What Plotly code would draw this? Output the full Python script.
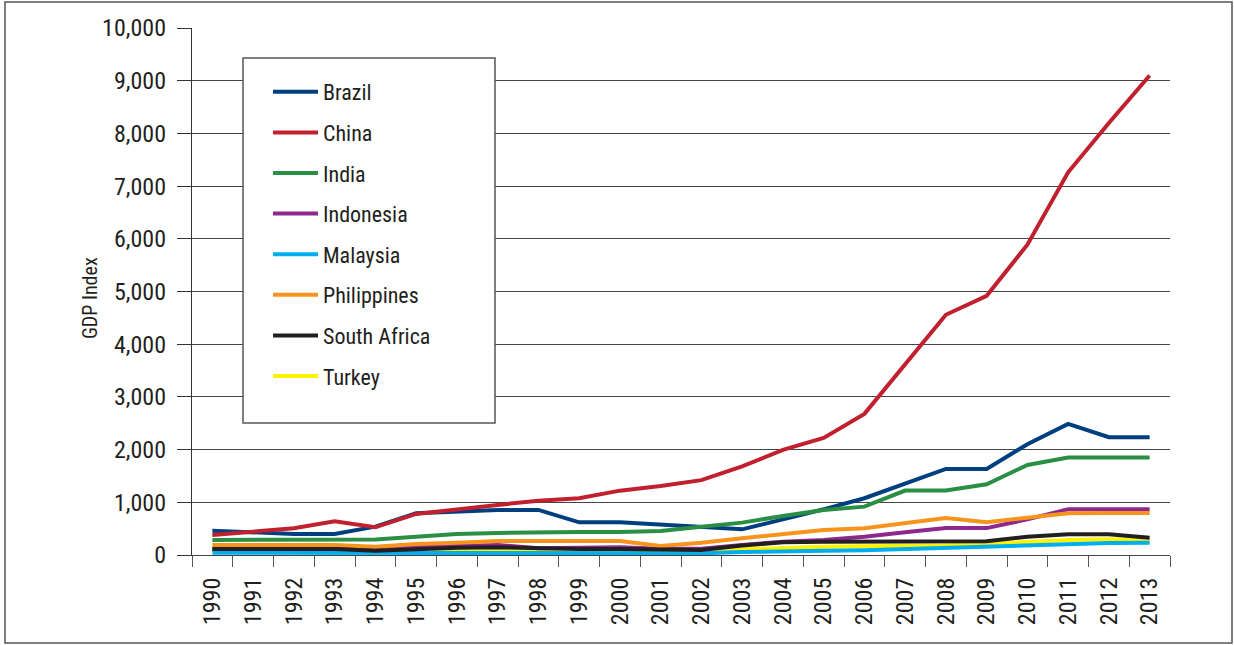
import plotly.graph_objects as go

years = [str(y) for y in range(1990, 2014)]

brazil = [462, 437, 399, 399, 538, 791, 823, 855, 855, 620, 620, 570,
          538, 487, 677, 867, 1077, 1362, 1633, 1633, 2102, 2488, 2235, 2235]
china = [380, 443, 507, 640, 526, 779, 855, 950, 1031, 1076, 1221, 1310,
         1420, 1680, 1994, 2220, 2678, 3609, 4558, 4919, 5888, 7262, 8199, 9098]
india = [285, 285, 285, 285, 295, 348, 399, 418, 437, 437, 437, 456,
         538, 614, 741, 855, 918, 1222, 1222, 1342, 1709, 1849, 1849, 1849]
indonesia = [110, 115, 120, 125, 130, 150, 171, 190, 127, 127, 146, 120,
             120, 190, 253, 285, 348, 431, 510, 510, 677, 867, 867, 867]
malaysia = [44, 44, 44, 44, 40, 48, 51, 51, 51, 48, 44, 32,
            32, 57, 76, 82, 89, 115, 140, 158, 184, 209, 228, 234]
philippines = [190, 190, 190, 190, 158, 209, 234, 266, 266, 266, 266, 171,
               234, 317, 399, 475, 507, 602, 700, 620, 715, 791, 797, 797]
south_africa = [114, 114, 114, 114, 82, 120, 139, 146, 127, 114, 114, 95,
                95, 180, 240, 253, 253, 253, 253, 260, 348, 393, 393, 329]
turkey = [85, 85, 85, 85, 70, 85, 90, 95, 90, 85, 85, 60,
          63, 108, 140, 158, 165, 171, 180, 209, 253, 285, 297, 285]

series = [
    ("Brazil", brazil, "#003f7f"),
    ("China", china, "#c1202f"),
    ("India", india, "#2a8f45"),
    ("Indonesia", indonesia, "#8e288e"),
    ("Malaysia", malaysia, "#00aeef"),
    ("Philippines", philippines, "#f7941d"),
    ("South Africa", south_africa, "#231f20"),
    ("Turkey", turkey, "#fff200"),
]
# drawing order (Turkey sits underneath), legend order kept via legendrank
draw_order = ["Turkey", "Brazil", "China", "India", "Indonesia", "Malaysia",
              "Philippines", "South Africa"]

FONT = "Liberation Sans Narrow, Arial Narrow, Roboto Condensed, sans-serif"
TXT = "#231f20"

fig = go.Figure()
lookup = {s[0]: s for s in series}
names = [s[0] for s in series]
for name in draw_order:
    nm, vals, col = lookup[name]
    fig.add_trace(go.Scatter(
        x=years, y=vals, name=nm, mode="lines",
        line=dict(color=col, width=4),
        legendrank=names.index(nm) + 1, legendgroup=nm,
    ))

W, H = 1234, 645
L, R, T, B = 192, 64, 28, 90
pw, ph = W - L - R, H - T - B


def px(x):
    return (x - L) / pw


def py(y):
    return (H - B - y) / ph


fig.update_layout(
    width=W, height=H, autosize=False,
    margin=dict(l=L, r=R, t=T, b=B, pad=0),
    paper_bgcolor="white", plot_bgcolor="white",
    font=dict(family=FONT, size=24, color=TXT),
    showlegend=True,
    legend=dict(
        x=px(268), y=py(71), xanchor="left", yanchor="top",
        bgcolor="rgba(0,0,0,0)", borderwidth=0,
        font=dict(family=FONT, size=22, color=TXT),
        traceorder="grouped", tracegroupgap=9, itemwidth=45,
    ),
    xaxis=dict(
        type="category", range=[-0.5, 23.5],
        tickson="boundaries", ticks="outside", ticklen=11, tickwidth=1.3,
        tickcolor="#555", showline=True, linecolor="#444", linewidth=1.3,
        showgrid=False, tickangle=-90, ticklabelstandoff=12,
        tickfont=dict(family=FONT, size=24, color=TXT),
    ),
    yaxis=dict(
        range=[0, 10000], dtick=1000, tickformat=",",
        ticks="outside", ticklen=14, tickwidth=1.3, tickcolor="#333",
        showline=True, linecolor="#333", linewidth=1.3,
        showgrid=True, gridcolor="#444", gridwidth=1.3,
        zeroline=False, ticklabelstandoff=6,
        tickfont=dict(family=FONT, size=24, color=TXT),
    ),
    annotations=[
        dict(text="GDP Index", xref="paper", yref="paper",
             x=px(90), y=py(298), xanchor="center", yanchor="middle",
             textangle=-90, showarrow=False,
             font=dict(family=FONT, size=20, color=TXT)),
    ],
    shapes=[
        dict(type="rect", xref="paper", yref="paper",
             x0=px(5), x1=px(1232), y0=py(643), y1=py(2),
             line=dict(color="#555", width=1.5), fillcolor="rgba(0,0,0,0)",
             layer="below"),
        dict(type="rect", xref="paper", yref="paper",
             x0=px(243), x1=px(495), y0=py(423), y1=py(58),
             line=dict(color="#555", width=1.5), fillcolor="white",
             layer="above"),
    ],
)

fig.write_html(
    "out.html",
    config={"displayModeBar": False},
    post_script="document.body.style.margin='0';"
                "document.body.style.overflow='hidden';",
)
